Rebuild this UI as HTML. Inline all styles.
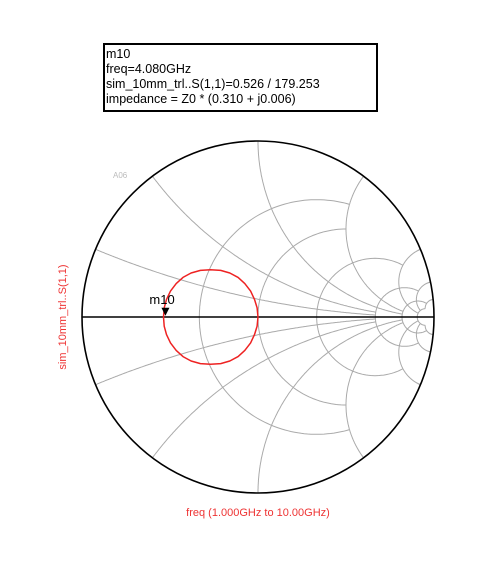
<!DOCTYPE html>
<html><head><meta charset="utf-8"><style>
html,body{margin:0;padding:0;background:#fff;width:500px;height:564px;overflow:hidden}
svg{display:block}
text{font-family:"Liberation Sans",sans-serif}
</style></head><body>
<svg id="chart" width="500" height="564" viewBox="0 0 500 564">
<g id="grid"></g>
<circle cx="258" cy="317" r="176" fill="none" stroke="#000" stroke-width="1.6"/>
<line x1="82" y1="317" x2="434" y2="317" stroke="#000" stroke-width="1.6"/>
<g id="series"></g>
<text x="113" y="178" font-size="8" fill="#bbb">A06</text>
<text transform="translate(66,317) rotate(-90)" text-anchor="middle" font-size="11" fill="#e33">sim_10mm_trl..S(1,1)</text>
<text x="258" y="516" text-anchor="middle" font-size="11" fill="#e33">freq (1.000GHz to 10.00GHz)</text>
<g>
<rect x="104" y="44" width="273" height="67" fill="#fff" stroke="#000" stroke-width="2"/>
<text font-size="12.5" fill="#000">
<tspan x="106" y="58">m10</tspan>
<tspan x="106" y="73">freq=4.080GHz</tspan>
<tspan x="106" y="88">sim_10mm_trl..S(1,1)=0.526 / 179.253</tspan>
<tspan x="106" y="103">impedance = Z0 * (0.310 + j0.006)</tspan>
</text></g>
</svg>
<script>
const rValues=[0.5,1,2,5,10,20];
const rCutX=[2,2,5,10,20,20];
const xValues=[0.2,0.5,1,2,5,10,20];
const xCutR=[5,5,10,10,20,20,20];
const gammaRe=[-0.537,-0.533,-0.52,-0.497,-0.465,-0.426,-0.38,-0.327,-0.27,-0.212,-0.16,-0.113,-0.075,-0.042,-0.02,-0.005,0.0,-0.005,-0.02,-0.042,-0.075,-0.113,-0.16,-0.212,-0.27,-0.327,-0.38,-0.426,-0.465,-0.497,-0.52,-0.533,-0.537];
const gammaIm=[0.0,0.052,0.1,0.147,0.19,0.225,0.25,0.265,0.269,0.265,0.25,0.225,0.19,0.147,0.1,0.052,0.0,-0.052,-0.1,-0.147,-0.19,-0.225,-0.25,-0.265,-0.269,-0.265,-0.25,-0.225,-0.19,-0.147,-0.1,-0.052,0.0];
const markerRe=0.526*Math.cos(179.253*Math.PI/180);
const markerIm=0.526*Math.sin(179.253*Math.PI/180);
const CX=258,CY=317,R=176;
const px=u=>CX+u*R, py=v=>CY-v*R;
const NS='http://www.w3.org/2000/svg';
const grid=document.getElementById('grid');
function gam(r,x){const dr=(r+1)*(r+1)+x*x;return [(r*r+x*x-1)/dr,(2*x)/dr];}
function addPath(pts,name){
 const p=document.createElementNS(NS,'path');
 p.setAttribute('d',pts.map((q,i)=>(i?'L':'M')+px(q[0]).toFixed(1)+','+py(q[1]).toFixed(1)).join(''));
 p.setAttribute('fill','none');p.setAttribute('stroke','#aaa');p.setAttribute('stroke-width','1');
 
 
 grid.appendChild(p);
}
rValues.forEach((r,i)=>{
 const xc=rCutX[i],pts=[];
 for(let k=0;k<=200;k++){const t=-1+2*k/200;const x=xc*Math.sinh(t*Math.asinh(xc*4))/Math.sinh(Math.asinh(xc*4))/1;pts.push(gam(r,x));}
 addPath(pts,'resistance-circle');
});
xValues.forEach((x,i)=>{[1,-1].forEach(s=>{
 const rc=xCutR[i],pts=[];
 for(let k=0;k<=200;k++){const t=k/200;const r=rc*(Math.exp(t*Math.log(rc*10+1))-1)/(rc*10);pts.push(gam(r,s*x));}
 addPath(pts,'reactance-arc');
});});
const ser=document.getElementById('series');
const p=document.createElementNS(NS,'path');
let d='';gammaRe.forEach((g,i)=>{d+=(i?'L':'M')+px(g).toFixed(1)+','+py(gammaIm[i]).toFixed(1);});
p.setAttribute('d',d);p.setAttribute('fill','none');p.setAttribute('stroke','#e22');p.setAttribute('stroke-width','1.5');p.setAttribute('stroke-linejoin','round');


ser.appendChild(p);
const mx=px(markerRe),my=py(markerIm);
const tri=document.createElementNS(NS,'path');
tri.setAttribute('d',`M${mx-4},${my-8}L${mx+4},${my-8}L${mx},${my}Z`);tri.setAttribute('fill','#000');


ser.appendChild(tri);
const t=document.createElementNS(NS,'text');
t.setAttribute('x',mx-16);t.setAttribute('y',my-12);t.setAttribute('font-size','13');t.textContent='m10';


ser.appendChild(t);
</script>
</body></html>
